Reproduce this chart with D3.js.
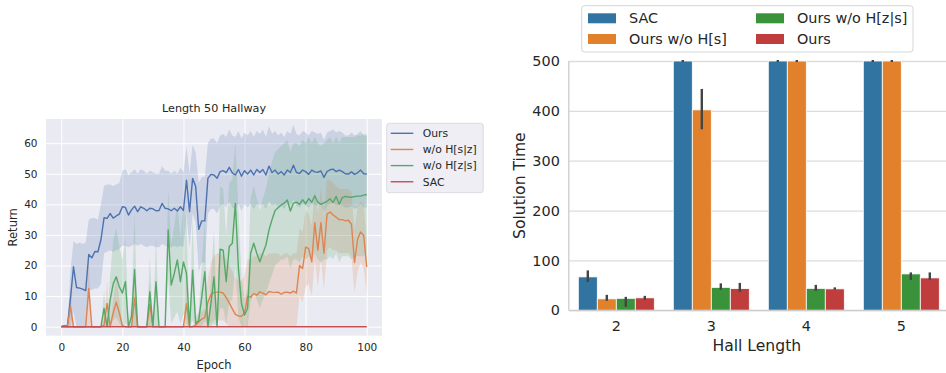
<!DOCTYPE html>
<html>
<head>
<meta charset="utf-8">
<script src="https://cdn.jsdelivr.net/npm/d3@7"></script>
<style>
  body { margin: 0; background: #fff; }
  svg { display: block; font-family: "DejaVu Sans", sans-serif; }
</style>
</head>
<body>
<svg id="chart" width="946" height="373"></svg>
<script>
// ── Left panel data: return per epoch (mean, lower CI, upper CI) ──────────────
const epochs = d3.range(0, 101);
const epochTicks = [0, 20, 40, 60, 80, 100];
const returnTicks = [0, 10, 20, 30, 40, 50, 60];

const oursMean = [0, 0.3, 0.2, 9, 19.6, 12.8, 12.6, 12.3, 11.8, 23.6,
  22.5, 24.6, 24.5, 28.5, 35.6, 35.4, 37, 35.5, 36.2, 36.8,
  39.2, 39, 36.5, 38.2, 39.4, 37.6, 39.2, 38.7, 37.9, 38.7,
  38.5, 37.9, 38, 40.3, 38.7, 38.5, 37.9, 38.7, 37.8, 39.2,
  38, 47.9, 37.6, 48.5, 45.8, 31.8, 34.6, 34.6, 48.5, 49.8,
  49.6, 48.5, 50.7, 51, 50.4, 52.1, 50.3, 49.6, 51.4, 49.2,
  51, 49.9, 51.2, 49.6, 51.4, 50.4, 51.4, 49.6, 52.5, 50.4,
  51.2, 49.9, 50.7, 49.6, 51.2, 50.4, 52.8, 50.4, 50.1, 51.2,
  50.7, 49.8, 51.2, 50.6, 50.5, 50.9, 48.8, 50.7, 51.3, 51.5,
  50.7, 51.2, 50.7, 50, 49.9, 50.6, 49.8, 50.3, 51.2, 50, 49.9];
const oursLo = [0, 0, 0, 0, 5, 0, 0, 0, 0, 12,
  12, 12.5, 12.5, 14, 24, 24.5, 25, 24.5, 25, 25.5,
  26.5, 26.5, 26, 26.5, 27, 26.5, 27, 26.5, 26, 26.5,
  26.5, 26, 26, 27, 26.5, 26, 26, 26.5, 26, 26.5,
  26, 36, 26, 37, 34, 18, 21, 21, 37, 38.5,
  38.5, 37, 39.5, 40, 39, 41, 39, 38.5, 40, 38,
  40, 39, 40, 38.5, 40, 39.5, 40, 38.5, 41, 39.5,
  40, 39, 39.5, 38.5, 40, 39.5, 41.5, 39.5, 39, 40,
  39.5, 39, 40, 39.5, 39.5, 40, 37.5, 39.5, 40, 40.5,
  39.5, 40, 39.5, 39, 39, 39.5, 38.5, 39, 40, 39, 39];
const oursHi = [0, 0.6, 0.5, 18, 28, 27, 27.5, 27, 27.5, 35,
  35.5, 35.5, 35, 40, 46, 46.5, 46.5, 46, 46.5, 47,
  51, 51.5, 49.5, 50.5, 51.5, 50, 51.5, 51, 50, 51,
  50.5, 50, 50, 52.5, 51, 51, 50, 51, 50, 52,
  50.5, 59, 50, 59.5, 57, 47, 49, 49, 60, 61.5,
  61.5, 60, 62.5, 63, 62, 64.5, 62.5, 62, 64, 61.5,
  63.5, 62.5, 64, 62, 64, 63, 64.5, 62, 65.5, 63,
  64, 62.5, 63.5, 62, 64, 63, 66, 63, 62.5, 64,
  63.5, 62.5, 64, 63.5, 63, 63.5, 61, 63.5, 64, 64.5,
  63.5, 64, 63.5, 62.5, 62.5, 63.5, 62.5, 63, 64, 62.5, 62.5];

const noSzMean = [0, 0, 0, 6.6, 0, 0, 0, 0, 0, 12.5,
  0, 0, 0, 0, 0.5, 7.6, 0, 4.5, 8, 4.5,
  0.3, 0, 0, 0, 9.4, 0, 0, 0, 0, 7.3,
  0, 0, 0, 0, 0, 0, 0, 0, 0, 0,
  0, 7.5, 0, 0, 0.5, 1.5, 2.5, 3, 8, 10.5,
  11.2, 11.3, 11.3, 11, 9.5, 7.8, 5.8, 4, 3.5, 3.4,
  4.5, 10, 9.6, 10.8, 10.3, 11.4, 11, 10.4, 11.5, 11.3,
  11.2, 11.3, 10.6, 11.2, 11.3, 11, 11.6, 11, 20, 19,
  26, 25.5, 21.2, 34, 25, 34, 24, 36.8, 37.5, 36.5,
  35.8, 35, 35, 34.6, 34.8, 33.5, 21, 28.5, 31, 29.8, 19.5];
const noSzLo = [0, 0, 0, 0, 0, 0, 0, 0, 0, 0,
  0, 0, 0, 0, 0, 0, 0, 0, 0, 0,
  0, 0, 0, 0, 0, 0, 0, 0, 0, 0,
  0, 0, 0, 0, 0, 0, 0, 0, 0, 0,
  0, 0, 0, 0, 0, 0, 0, 0, 0, 1,
  2, 2, 2, 2, 1, 0, 0, 0, 0, 0,
  0, 0, 0, 0, 0, 0, 0, 0, 0, 0,
  0, 0, 0, 0, 0, 0, 0, 0, 10, 8,
  13, 14, 10, 22, 13, 22, 12, 25, 26, 25,
  25, 24, 24, 24, 24, 23, 11, 18, 21, 19, 11];
const noSzHi = [0, 0, 0, 13, 0, 0, 0, 0, 0, 22,
  0, 0, 0, 0, 1, 15, 0, 9, 16, 9,
  0.6, 0, 0, 0, 19, 0, 0, 0, 0, 15,
  0, 0, 0, 0, 0, 0, 0, 0, 0, 0,
  0, 15, 0, 0, 1.5, 4, 5, 6, 16, 21,
  23, 24, 24, 23, 22, 20, 18, 16, 15, 15,
  17, 22, 22, 23, 23, 24, 24, 23, 24, 24,
  24, 24, 23, 24, 24, 23, 24, 24, 32, 31,
  38, 37, 33, 45, 37, 45, 36, 48, 48, 47,
  46, 45, 45, 45, 45, 44, 32, 39, 41, 40, 28];

const noZsMean = [0, 0.3, 0, 0, 0, 0, 0, 0, 0, 0,
  0, 0, 0, 0, 6, 0, 8.7, 14, 16.3, 13,
  11, 14.7, 0, 3.3, 18.7, 0, 0, 0, 0, 11.4,
  0, 14.7, 0, 0, 0, 31.6, 13.6, 17.4, 21.8, 14.7,
  21.2, 17.4, 0, 18.5, 1, 2, 9.8, 18, 0, 7.6,
  16.3, 0, 25.3, 25, 14.7, 26.2, 27.3, 40.3, 19, 7.6,
  3.8, 6, 24, 27.3, 24, 21.2, 24, 26.7, 31.6, 35,
  38, 38.9, 39.8, 40.4, 41.4, 37.8, 40.4, 40.7, 40, 41.5,
  40.2, 41.9, 40.7, 42.8, 40.7, 40, 40.5, 41, 41.8, 40.6,
  42.6, 40, 42.2, 42.6, 42.4, 42.3, 42.5, 42.7, 42.7, 43, 43.2];
const noZsLo = [0, 0, 0, 0, 0, 0, 0, 0, 0, 0,
  0, 0, 0, 0, 0, 0, 0, 2, 3, 1,
  0, 1, 0, 0, 0, 0, 0, 0, 0, 0,
  0, 0, 0, 0, 0, 16, 1, 3, 5, 1,
  4, 1, 0, 2, 0, 0, 0, 2, 0, 0,
  1, 0, 6, 6, 1, 8, 9, 20, 3, 0,
  0, 0, 8, 11, 9, 6, 9, 11, 14, 17,
  20, 21, 22, 22, 23, 19, 22, 22, 21, 23,
  22, 23, 22, 24, 22, 21, 22, 22, 23, 22,
  24, 21, 23, 23, 23, 22, 23, 23, 23, 23, 24];
const noZsHi = [0, 0.6, 0, 0, 0, 0, 0, 0, 0, 0,
  0, 0, 0, 0, 12, 0, 17, 28, 32, 26,
  22, 29, 2, 7, 37, 0, 0, 0, 0, 23,
  0, 29, 0, 0, 0, 45, 27, 33, 40, 29,
  40, 34, 0, 36, 3, 5, 20, 35, 0, 16,
  32, 0, 46, 45, 30, 47, 48, 60, 38, 16,
  9, 13, 42, 46, 42, 38, 42, 45, 50, 54,
  57, 58, 59, 60, 61, 57, 60, 60, 59, 61,
  60, 62, 60, 62, 60, 59, 60, 61, 62, 60,
  62, 60, 62, 62, 62, 62, 62, 62.5, 62.5, 63, 63];

const sacMean = [0, 0, 0, 0, 0, 0, 0, 0, 0, 0,
  0, 0, 0, 0, 0, 0, 0, 0, 0, 0,
  0, 0, 0, 0, 0, 0, 0, 0, 0, 0,
  0, 0, 0, 0, 0, 0, 0, 0, 0, 0,
  0, 0, 0, 0, 0, 0, 0, 0, 0, 0,
  0, 0, 0, 0, 0, 0, 0, 0, 0, 0,
  0, 0, 0, 0, 0, 0, 0, 0, 0, 0,
  0, 0, 0, 0, 0, 0, 0, 0, 0, 0,
  0, 0, 0, 0, 0, 0, 0, 0, 0, 0,
  0, 0, 0, 0, 0, 0, 0, 0, 0, 0, 0];

// ── Right panel data: solution time per hall length ─────────────────────────
const hallLengths = ["2", "3", "4", "5"];
const timeTicks = [0, 100, 200, 300, 400, 500];
const methods = ["SAC", "Ours w/o H[s]", "Ours w/o H[z|s]", "Ours"];
const sacTime = [67, 500, 500, 500];
const sacErr = [[57, 80], [498, 502], [498, 502], [498, 502]];
const noSTime = [23, 402, 500, 500];
const noSErr = [[19, 31], [363, 444], [498, 502], [498, 502]];
const noZsTime = [24, 46, 44, 73];
const noZsErr = [[7, 27], [41, 54], [39, 51], [61, 76]];
const oursTime = [25, 43.5, 43, 65];
const oursErr = [[21, 29], [37, 55], [41, 46], [61, 76]];

const svg = d3.select("#chart");
const textCol = "#262626";

// ── Left panel: line plot on darkgrid ───────────────────────────────────────
const L = { x0: 46, x1: 382, y0: 119, y1: 335.7 };
const x = d3.scaleLinear().domain([-5, 105]).range([L.x0, L.x1]);
const y = d3.scaleLinear().domain([-2.95, 67.9]).range([L.y1, L.y0]);

const left = svg.append("g");
left.append("rect")
  .attr("x", L.x0).attr("y", L.y0)
  .attr("width", L.x1 - L.x0).attr("height", L.y1 - L.y0)
  .attr("fill", "#eaeaf2");

const gx = left.append("g")
  .attr("transform", `translate(0,${L.y1})`)
  .call(d3.axisBottom(x).tickValues(epochTicks).tickSize(-(L.y1 - L.y0)).tickPadding(8));
const gy = left.append("g")
  .attr("transform", `translate(${L.x0},0)`)
  .call(d3.axisLeft(y).tickValues(returnTicks).tickSize(-(L.x1 - L.x0)).tickPadding(8.5));
[gx, gy].forEach((g) => {
  g.select(".domain").remove();
  g.selectAll("line").attr("stroke", "#fff").attr("stroke-width", 1);
  g.selectAll("text").attr("fill", textCol).attr("font-size", 10.5)
    .attr("font-family", "DejaVu Sans");
});

const lineSeries = [
  { name: "Ours", color: "#4c72b0", mean: oursMean, lo: oursLo, hi: oursHi },
  { name: "w/o H[s|z]", color: "#dd8452", mean: noSzMean, lo: noSzLo, hi: noSzHi },
  { name: "w/o H[z|s]", color: "#55a868", mean: noZsMean, lo: noZsLo, hi: noZsHi },
  { name: "SAC", color: "#c44e52", mean: sacMean, lo: sacMean, hi: sacMean },
];

const plot = left.append("g");
// bands first, then lines on top (matplotlib z-order)
lineSeries.forEach((s) => {
  const area = d3.area()
    .x((i) => x(epochs[i]))
    .y0((i) => y(s.lo[i]))
    .y1((i) => y(s.hi[i]));
  plot.append("path")
    .attr("d", area(d3.range(epochs.length)))
    .attr("fill", s.color).attr("fill-opacity", 0.2);
});
lineSeries.forEach((s) => {
  const line = d3.line().x((i) => x(epochs[i])).y((i) => y(s.mean[i]));
  plot.append("path")
    .attr("d", line(d3.range(epochs.length)))
    .attr("fill", "none").attr("stroke", s.color)
    .attr("stroke-width", 1.4).attr("stroke-linejoin", "round");
});

left.append("text")
  .attr("x", (L.x0 + L.x1) / 2).attr("y", 112)
  .attr("text-anchor", "middle").attr("font-size", 11.2).attr("fill", textCol)
  .text("Length 50 Hallway");
left.append("text")
  .attr("x", (L.x0 + L.x1) / 2).attr("y", 369)
  .attr("text-anchor", "middle").attr("font-size", 11.5).attr("fill", textCol)
  .text("Epoch");
left.append("text")
  .attr("transform", `translate(17,${(L.y0 + L.y1) / 2}) rotate(-90)`)
  .attr("text-anchor", "middle").attr("font-size", 11.5).attr("fill", textCol)
  .text("Return");

// legend
const lg = left.append("g").attr("transform", "translate(386.7,123.3)");
lg.append("rect")
  .attr("width", 96.5).attr("height", 69.4).attr("rx", 2.5)
  .attr("fill", "#eeeef4").attr("stroke", "#d3d3da").attr("stroke-width", 0.8);
lineSeries.forEach((s, k) => {
  const cy = 10 + k * 16.15;
  lg.append("line")
    .attr("x1", 4).attr("x2", 26.6).attr("y1", cy).attr("y2", cy)
    .attr("stroke", s.color).attr("stroke-width", 1.4);
  lg.append("text")
    .attr("x", 36).attr("y", cy).attr("dy", "0.35em")
    .attr("font-size", 10.8).attr("fill", textCol).text(s.name);
});

// ── Right panel: bar plot on whitegrid ──────────────────────────────────────
const R = { x0: 568.8, x1: 948.8, y0: 61, y1: 310.3 };
const xb = d3.scaleBand().domain(hallLengths).range([R.x0, R.x1])
  .paddingInner(0.2).paddingOuter(0.1);
const xs = d3.scaleBand().domain(methods).range([0, xb.bandwidth()]);
const yb = d3.scaleLinear().domain([0, 500]).range([R.y1, R.y0]);

const right = svg.append("g");
const gyb = right.append("g")
  .attr("transform", `translate(${R.x0},0)`)
  .call(d3.axisLeft(yb).tickValues(timeTicks).tickSize(-(R.x1 - R.x0)).tickPadding(9));
gyb.select(".domain").remove();
gyb.selectAll("line").attr("stroke", "#dcdcdc").attr("stroke-width", 1.3);
gyb.selectAll("text").attr("fill", textCol).attr("font-size", 14.4)
  .attr("font-family", "DejaVu Sans");

const gxb = right.append("g")
  .attr("transform", `translate(0,${R.y1})`)
  .call(d3.axisBottom(xb).tickSize(0).tickPadding(10));
gxb.select(".domain").remove();
gxb.selectAll("text").attr("fill", textCol).attr("font-size", 14.4)
  .attr("font-family", "DejaVu Sans");

const barSeries = [
  { name: methods[0], color: "#3274a1", vals: sacTime, err: sacErr },
  { name: methods[1], color: "#e1812c", vals: noSTime, err: noSErr },
  { name: methods[2], color: "#3a923a", vals: noZsTime, err: noZsErr },
  { name: methods[3], color: "#c03d3e", vals: oursTime, err: oursErr },
];

const bars = right.append("g");
barSeries.forEach((s) => {
  bars.selectAll(null)
    .data(hallLengths)
    .join("rect")
    .attr("x", (h) => xb(h) + xs(s.name))
    .attr("y", (h, i) => yb(s.vals[i]))
    .attr("width", xs.bandwidth())
    .attr("height", (h, i) => yb(0) - yb(s.vals[i]))
    .attr("fill", s.color)
    .attr("stroke", "#fff").attr("stroke-width", 0.8);
});

// spines
right.append("line")
  .attr("x1", R.x0).attr("x2", R.x0).attr("y1", R.y0).attr("y2", R.y1)
  .attr("stroke", "#cccccc").attr("stroke-width", 1.3);
right.append("line")
  .attr("x1", R.x0).attr("x2", R.x1).attr("y1", R.y1).attr("y2", R.y1)
  .attr("stroke", "#cccccc").attr("stroke-width", 1.3);

barSeries.forEach((s) => {
  bars.selectAll(null)
    .data(hallLengths)
    .join("line")
    .attr("x1", (h) => xb(h) + xs(s.name) + xs.bandwidth() / 2)
    .attr("x2", (h) => xb(h) + xs(s.name) + xs.bandwidth() / 2)
    .attr("y1", (h, i) => yb(s.err[i][0]))
    .attr("y2", (h, i) => yb(s.err[i][1]))
    .attr("stroke", "#444444").attr("stroke-width", 2.4);
});

right.append("text")
  .attr("x", (R.x0 + R.x1) / 2 - 2).attr("y", 350.5)
  .attr("text-anchor", "middle").attr("font-size", 15.6).attr("fill", textCol)
  .text("Hall Length");
right.append("text")
  .attr("transform", `translate(525,${(R.y0 + R.y1) / 2}) rotate(-90)`)
  .attr("text-anchor", "middle").attr("font-size", 15.6).attr("fill", textCol)
  .text("Solution Time");

// legend (2 columns)
const rl = right.append("g").attr("transform", "translate(581.7,5.7)");
rl.append("rect")
  .attr("width", 331.3).attr("height", 46.3).attr("rx", 3)
  .attr("fill", "#fff").attr("fill-opacity", 0.8)
  .attr("stroke", "#d6d6d6").attr("stroke-width", 1);
barSeries.forEach((s, k) => {
  const col = Math.floor(k / 2), row = k % 2;
  const px = 6.3 + col * 168, cy = 12.6 + row * 20.7;
  rl.append("rect")
    .attr("x", px).attr("y", cy - 5).attr("width", 28).attr("height", 10)
    .attr("fill", s.color);
  rl.append("text")
    .attr("x", px + 41).attr("y", cy).attr("dy", "0.35em")
    .attr("font-size", 14.4).attr("fill", textCol).text(s.name);
});
</script>
</body>
</html>
